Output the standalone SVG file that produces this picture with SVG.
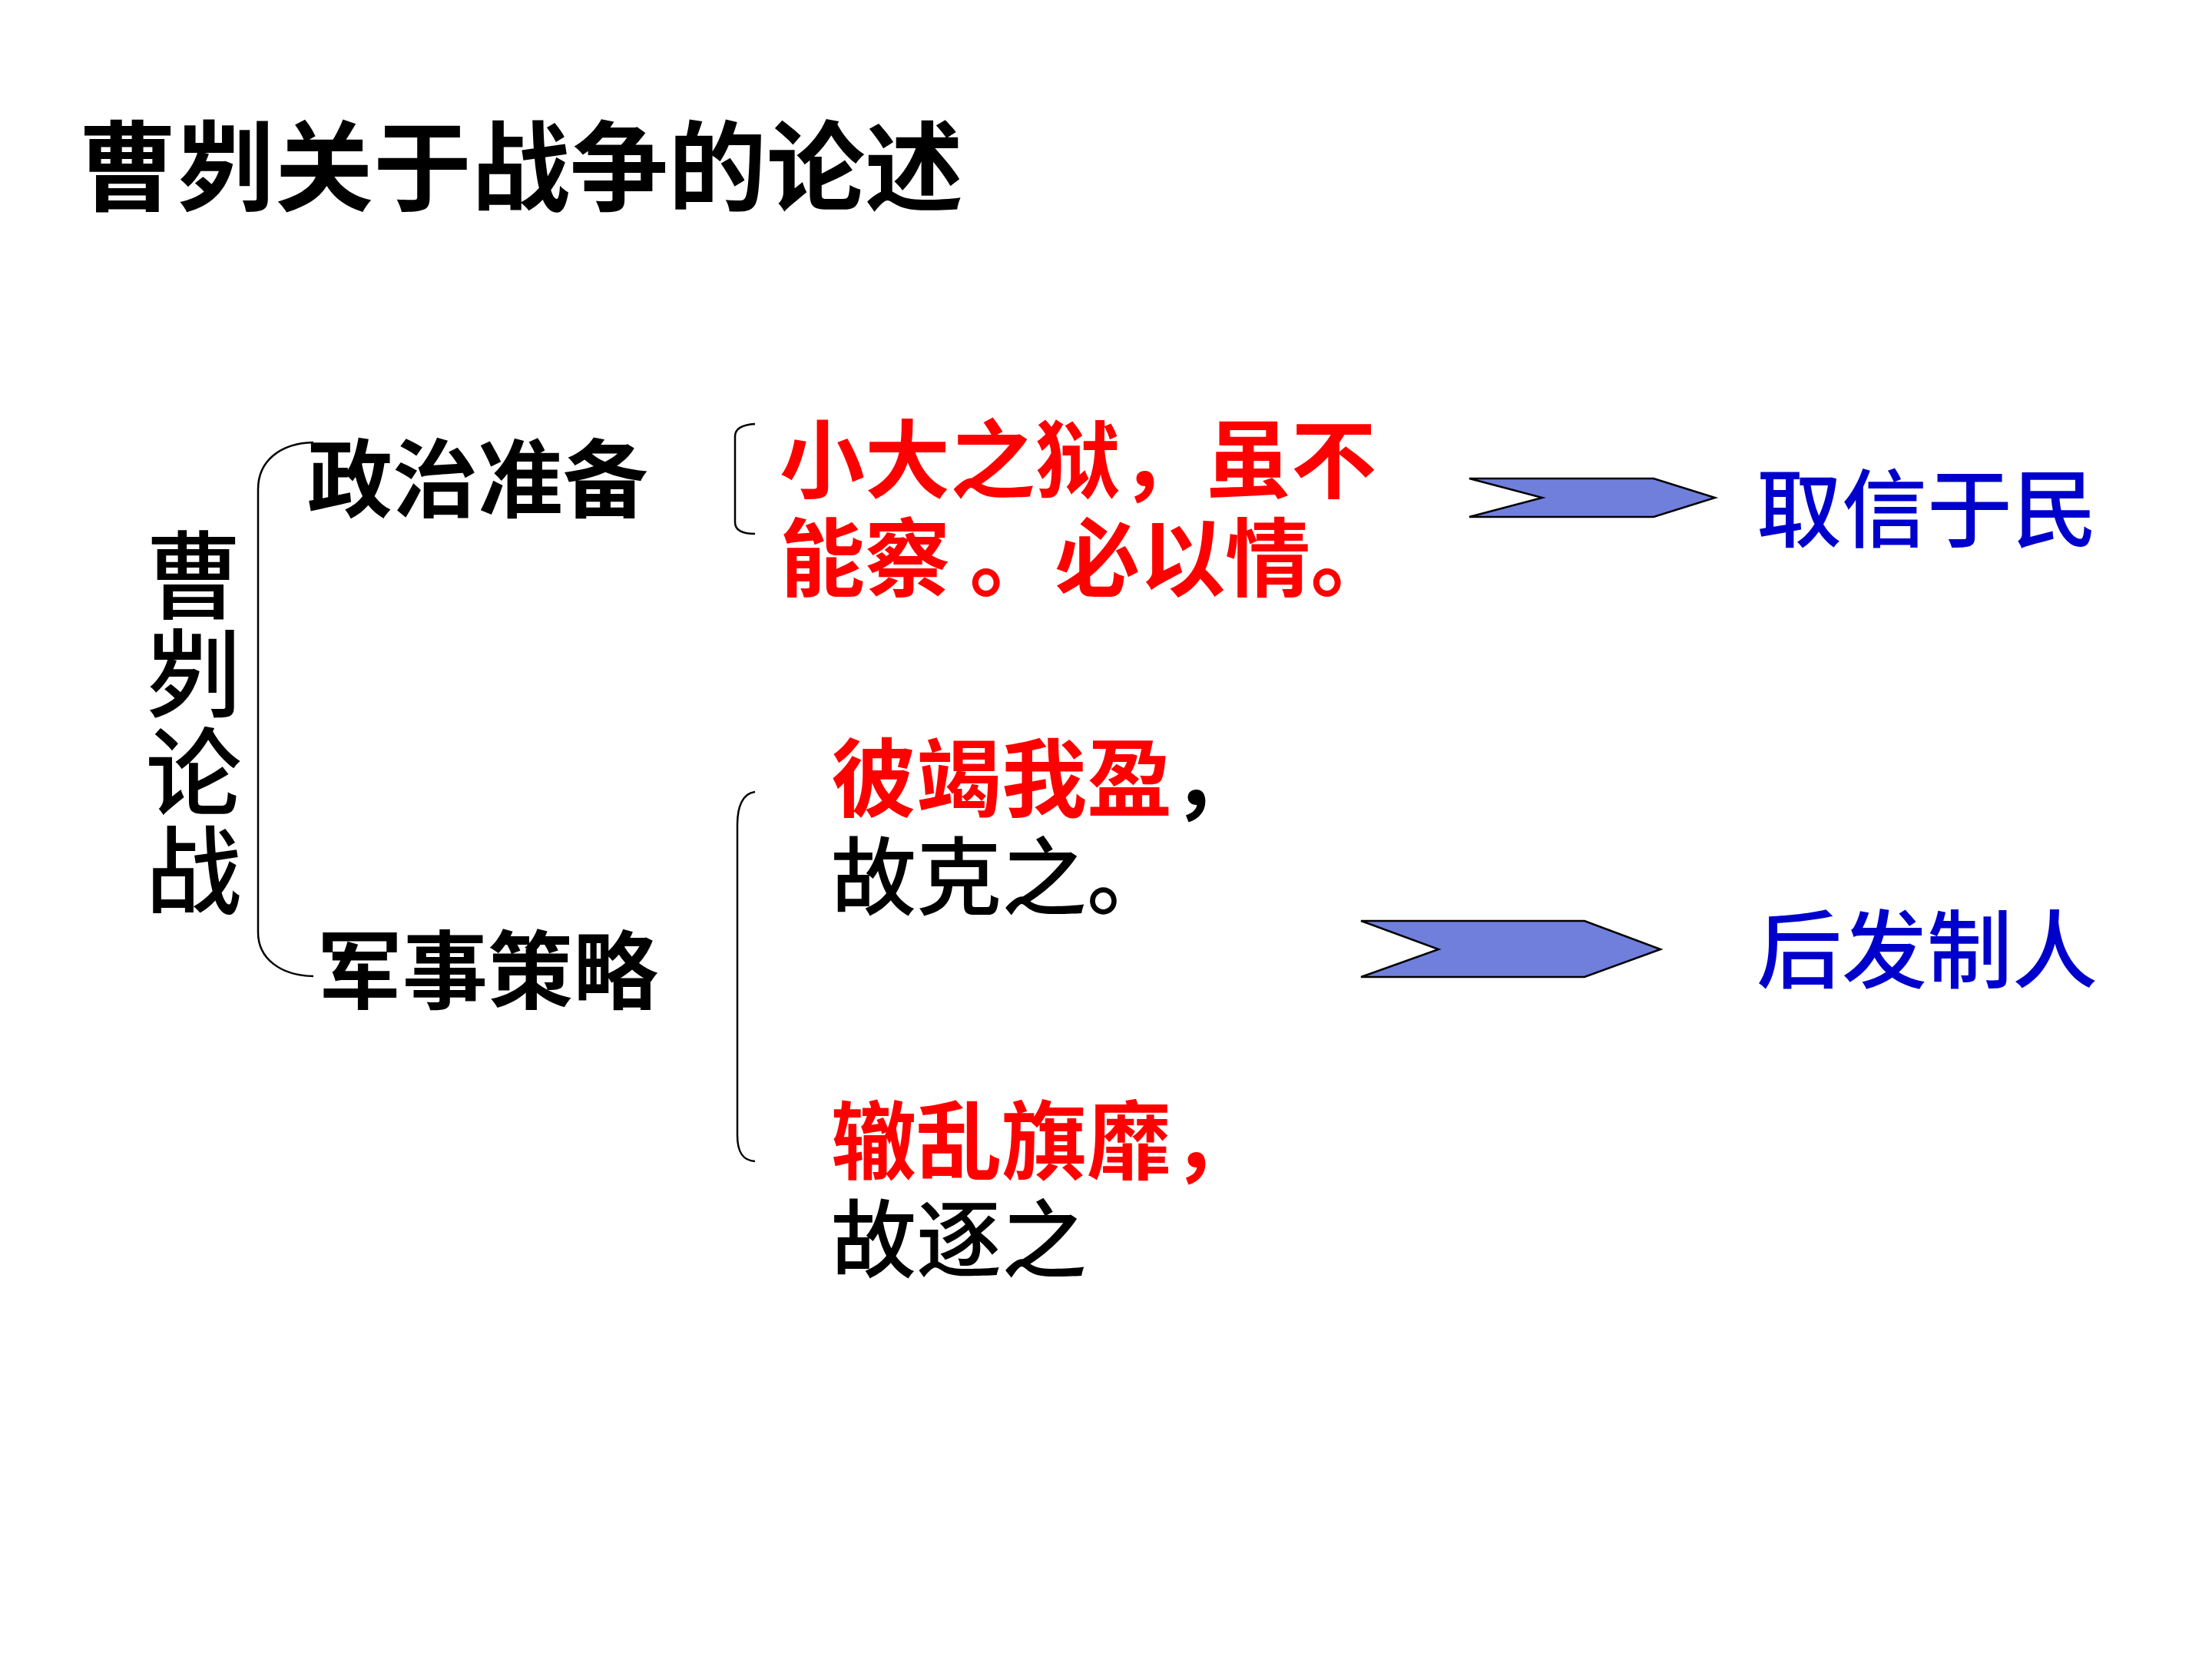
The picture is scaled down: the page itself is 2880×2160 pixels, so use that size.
<svg xmlns="http://www.w3.org/2000/svg" width="2880" height="2160" viewBox="0 0 2880 2160">
<style>
text { font-family: "Noto Sans CJK SC", "Noto Sans CJK TC", sans-serif; }
.b { font-weight: bold; }
.r { font-weight: 500; }
.fs { font-size: 111px; }
.red { fill: #FF0000; }
.blk { fill: #000000; }
.blue { fill: #0000CC; font-size: 111px; font-weight: 500; }
.brace { fill: none; stroke: #000000; stroke-width: 2.5; }
.barrow { fill: #707FDC; stroke: #000000; stroke-width: 2.5; stroke-linejoin: miter; }
</style>
<rect width="2880" height="2160" fill="#FFFFFF"/>

<g id="title">
  <text x="102" y="265" class="b blk" font-size="128">曹刿关于战争的论述</text>
</g>

<g id="connectors">
  <path class="brace" d="M 408 576 C 365 577, 336 600, 336 637 L 336 1214 C 336 1248, 365 1270, 408 1271"/>
  <path class="brace" d="M 983 552 C 966 553, 957 558, 957 568 L 957 680 C 957 690, 966 695, 983 695"/>
  <path class="brace" d="M 983 1031 C 967 1033, 960 1050, 960 1074 L 960 1478 C 960 1500, 967 1511, 983 1512"/>
  <polygon class="barrow" points="1913,623 2153,623 2233,648 2153,673 1913,673 2008,648"/>
  <polygon class="barrow" points="1772,1199 2063,1199 2162,1236 2063,1272 1772,1272 1873,1236"/>
</g>

<g id="node-root">
  <text x="252" y="686" class="r blk" font-size="125" writing-mode="vertical-rl" letter-spacing="3">曹刿论战</text>
</g>

<g id="node-political">
  <text x="400" y="665" class="b blk fs">政治准备</text>
</g>

<g id="node-military">
  <text x="413" y="1305" class="b blk fs">军事策略</text>
</g>

<g id="node-political-quote">
  <text class="b red fs">
    <tspan x="1015" y="640">小大之狱，虽不</tspan>
    <tspan x="1015" y="768">能察 。必以情。</tspan>
  </text>
</g>

<g id="node-military-quote1">
  <text class="fs">
    <tspan x="1082" y="1055" class="b red">彼竭我盈</tspan><tspan class="b blk">，</tspan>
    <tspan x="1082" y="1183" class="r blk">故克之。</tspan>
  </text>
</g>

<g id="node-military-quote2">
  <text class="fs">
    <tspan x="1082" y="1527" class="b red">辙乱旗靡，</tspan>
    <tspan x="1082" y="1655" class="r blk">故逐之</tspan>
  </text>
</g>

<g id="node-result1">
  <text x="2287" y="704" class="blue">取信于民</text>
</g>

<g id="node-result2">
  <text x="2287" y="1278" class="blue">后发制人</text>
</g>
</svg>
